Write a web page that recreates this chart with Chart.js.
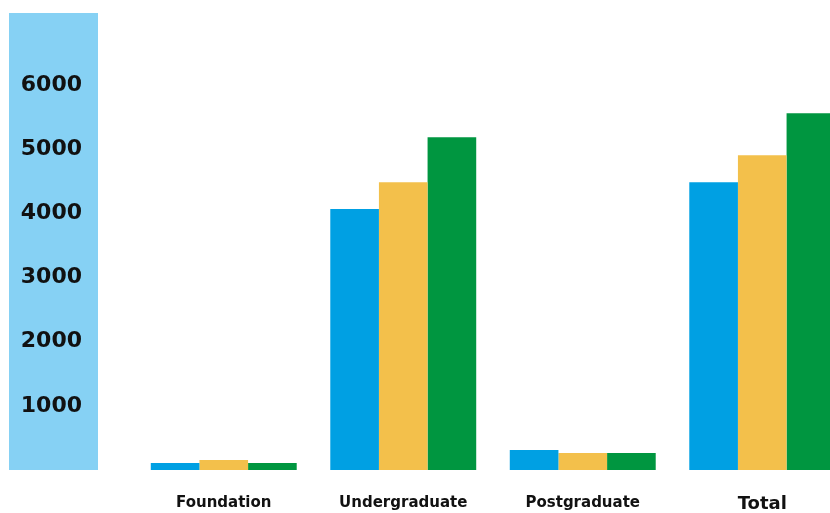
<!DOCTYPE html>
<html>
<head>
<meta charset="utf-8">
<script src="https://cdn.jsdelivr.net/npm/chart.js@4"></script>
<style>
  html, body { margin: 0; padding: 0; background: #fff; overflow: hidden; }
  #wrap { width: 830px; height: 513px; overflow: hidden; }
</style>
</head>
<body>
<div id="wrap"><canvas id="studentsChart" width="852" height="513"></canvas></div>
<script>
const categories = ['Foundation', 'Undergraduate', 'Postgraduate', 'Total'];
const year1 = [110, 4065, 310, 4485];
const year2 = [155, 4485, 265, 4905];
const year3 = [110, 5185, 265, 5560];
const yTicks = [1000, 2000, 3000, 4000, 5000, 6000];

// light blue band behind the y axis labels
const axisBand = {
  id: 'axisBand',
  beforeDraw(chart) {
    const { ctx, chartArea, scales } = chart;
    const bottom = scales.y.getPixelForValue(0);
    ctx.save();
    ctx.fillStyle = '#86d1f4';
    ctx.fillRect(9, chartArea.top, 89, bottom - chartArea.top);
    ctx.restore();
  }
};

new Chart(document.getElementById('studentsChart'), {
  type: 'bar',
  data: {
    labels: categories,
    datasets: [
      { data: year1, backgroundColor: '#00a0e3' },
      { data: year2, backgroundColor: '#f3c04b' },
      { data: year3, backgroundColor: '#009640' }
    ]
  },
  options: {
    responsive: false,
    animation: false,
    layout: { padding: { top: 13, left: 0, right: 0, bottom: 0 } },
    categoryPercentage: 0.813,
    barPercentage: 1,
    plugins: { legend: { display: false }, tooltip: { enabled: false } },
    scales: {
      x: {
        grid: { display: false, drawTicks: false },
        border: { display: false },
        afterFit(scale) {
          scale.height = 43;
          scale.paddingLeft = 0;
          scale.paddingRight = 0;
        },
        ticks: {
          color: '#111',
          padding: 24,
          font: (c) => c.index === 3
            ? { family: 'DejaVu Sans', size: 18, weight: 'bold' }
            : { family: 'DejaVu Sans', size: 15, weight: 'bold' }
        }
      },
      y: {
        min: 0,
        max: 7120,
        grid: { display: false, drawTicks: false },
        border: { display: false },
        afterFit(scale) {
          scale.width = 134;
          scale.paddingTop = 0;
          scale.paddingBottom = 0;
        },
        afterBuildTicks(scale) { scale.ticks = yTicks.map(v => ({ value: v })); },
        ticks: {
          color: '#111',
          crossAlign: 'center',
          padding: 52,
          callback: (v) => String(v),
          font: { family: 'DejaVu Sans', size: 22, weight: 'bold' }
        }
      }
    }
  },
  plugins: [axisBand]
});
</script>
</body>
</html>
